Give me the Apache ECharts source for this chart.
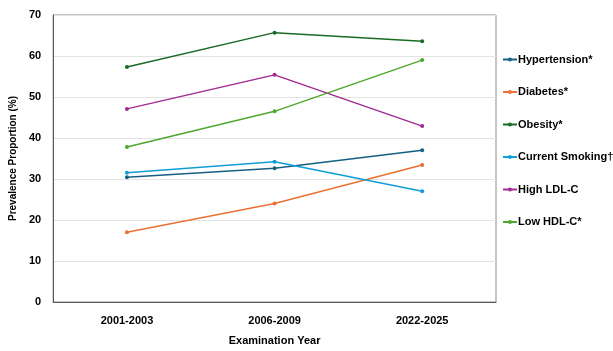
<!DOCTYPE html>
<html>
<head>
<meta charset="utf-8">
<script src="https://cdn.jsdelivr.net/npm/echarts@6/dist/echarts.min.js"></script>
<style>
  html, body { margin: 0; padding: 0; background: #fff; }
  #chart { width: 613px; height: 351px; }
</style>
</head>
<body>
<div id="chart"></div>
<script>
// examination periods
var years = ['2001-2003', '2006-2009', '2022-2025'];

// prevalence (%) per risk factor
var hypertension = [30.4, 32.6, 37.0];
var diabetes = [17.0, 24.0, 33.4];
var obesity = [57.3, 65.7, 63.6];
var smoking = [31.5, 34.2, 27.0];
var highLdl = [47.1, 55.4, 42.9];
var lowHdl = [37.8, 46.5, 59.0];

var names = ['Hypertension*', 'Diabetes*', 'Obesity*', 'Current Smoking†', 'High LDL-C', 'Low HDL-C*'];
var colors = ['#156082', '#E97132', '#196B24', '#0F9ED5', '#A02B93', '#4EA72E'];
var values = [hypertension, diabetes, obesity, smoking, highLdl, lowHdl];

var font = 'Liberation Sans, Arial, sans-serif';

var series = names.map(function (n, i) {
    return {
        name: n,
        type: 'line',
        data: values[i],
        symbol: 'circle',
        symbolSize: 4,
        lineStyle: { width: 1.5, color: colors[i] },
        itemStyle: { color: colors[i] }
    };
});

echarts.init(document.getElementById('chart')).setOption({
    animation: false,
    color: colors,
    grid: {
        left: 53,
        right: 117,
        top: 15,
        bottom: 44,
        show: true,
        borderColor: '#8c8c8c',
        borderWidth: 1
    },
    legend: {
        orient: 'vertical',
        left: 502,
        top: 54,
        padding: 0,
        itemGap: 21.5,
        itemWidth: 14,
        itemHeight: 5,
        textStyle: { fontFamily: font, fontWeight: 'bold', fontSize: 11, color: '#000', padding: [0, 0, 0, -4] },
        data: names
    },
    xAxis: {
        type: 'category',
        data: years,
        boundaryGap: true,
        name: 'Examination Year',
        nameLocation: 'middle',
        nameGap: 33,
        nameTextStyle: { fontFamily: font, fontWeight: 'bold', fontSize: 11, color: '#000' },
        axisLine: { lineStyle: { color: '#595959' } },
        axisTick: { show: false },
        axisLabel: { fontFamily: font, fontWeight: 'bold', fontSize: 11, color: '#000', margin: 13 }
    },
    yAxis: {
        type: 'value',
        min: 0,
        max: 70,
        interval: 10,
        name: 'Prevalence Proportion (%)',
        nameLocation: 'middle',
        nameGap: 30,
        nameTextStyle: { fontFamily: font, fontWeight: 'bold', fontSize: 10, color: '#000' },
        axisLine: { show: true, lineStyle: { color: '#595959' } },
        axisTick: { show: false },
        axisLabel: { fontFamily: font, fontWeight: 'bold', fontSize: 11, color: '#000', margin: 12 },
        splitLine: { lineStyle: { color: '#e3e3e3' } }
    },
    series: series
});
</script>
</body>
</html>
